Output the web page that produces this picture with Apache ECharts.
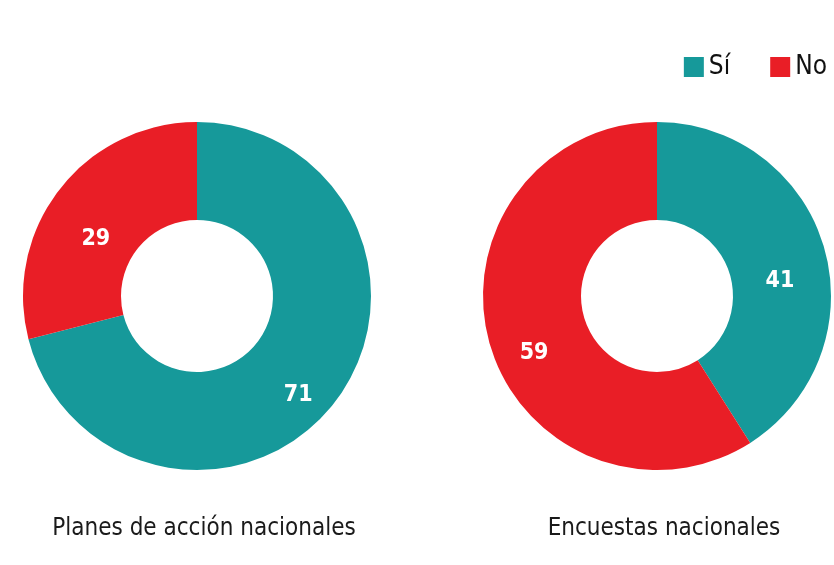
<!DOCTYPE html>
<html>
<head>
<meta charset="utf-8">
<script src="https://cdn.jsdelivr.net/npm/echarts@6/dist/echarts.min.js"></script>
<style>
  html, body { margin: 0; padding: 0; background: #fff; }
  #chart { width: 834px; height: 565px; }
</style>
</head>
<body>
<div id="chart"></div>
<script>
// categorias y valores (porcentajes)
const categories = ['Sí', 'No']
const chartTitles = ['Planes de acción nacionales', 'Encuestas nacionales']
const planesValues = [71, 29]
const encuestasValues = [41, 59]

const colors = ['#16999a', '#e91e26']
const font = '"Liberation Sans Narrow", "DejaVu Sans Condensed", sans-serif'

const myChart = echarts.init(document.getElementById('chart'))

function donut(values, cx) {
  return {
    type: 'pie',
    center: [cx, 296],
    radius: [76, 174],
    startAngle: 90,
    clockwise: true,
    silent: true,
    data: categories.map((name, i) => ({ name: name, value: values[i] })),
    label: {
      show: true,
      position: 'inside',
      // linea vacia arriba: las etiquetas del original quedan algo mas abajo
      formatter: '{gap|}\n{v|{c}}',
      rich: {
        gap: { lineHeight: 42 },
        v: {
          color: '#fff',
          fontFamily: '"DejaVu Sans Condensed", sans-serif',
          fontWeight: 'bold',
          fontSize: 23,
          lineHeight: 26
        }
      }
    },
    labelLine: { show: false },
    itemStyle: { borderWidth: 0 }
  }
}

myChart.setOption({
  color: colors,
  animation: false,
  title: [
    {
      text: chartTitles[0],
      left: 199,
      top: 512,
      textAlign: 'center',
      textStyle: { fontFamily: font, fontWeight: 'normal', fontSize: 24, color: '#1a1a1a' }
    },
    {
      text: chartTitles[1],
      left: 659,
      top: 512,
      textAlign: 'center',
      textStyle: { fontFamily: font, fontWeight: 'normal', fontSize: 24, color: '#1a1a1a' }
    }
  ],
  legend: {
    data: categories,
    right: 2,
    top: 49,
    icon: 'rect',
    itemWidth: 20,
    itemHeight: 20,
    itemGap: 40,
    textStyle: { fontFamily: font, fontSize: 26, color: '#111' }
  },
  series: [
    donut(planesValues, 197),
    donut(encuestasValues, 657)
  ]
})
</script>
</body>
</html>
